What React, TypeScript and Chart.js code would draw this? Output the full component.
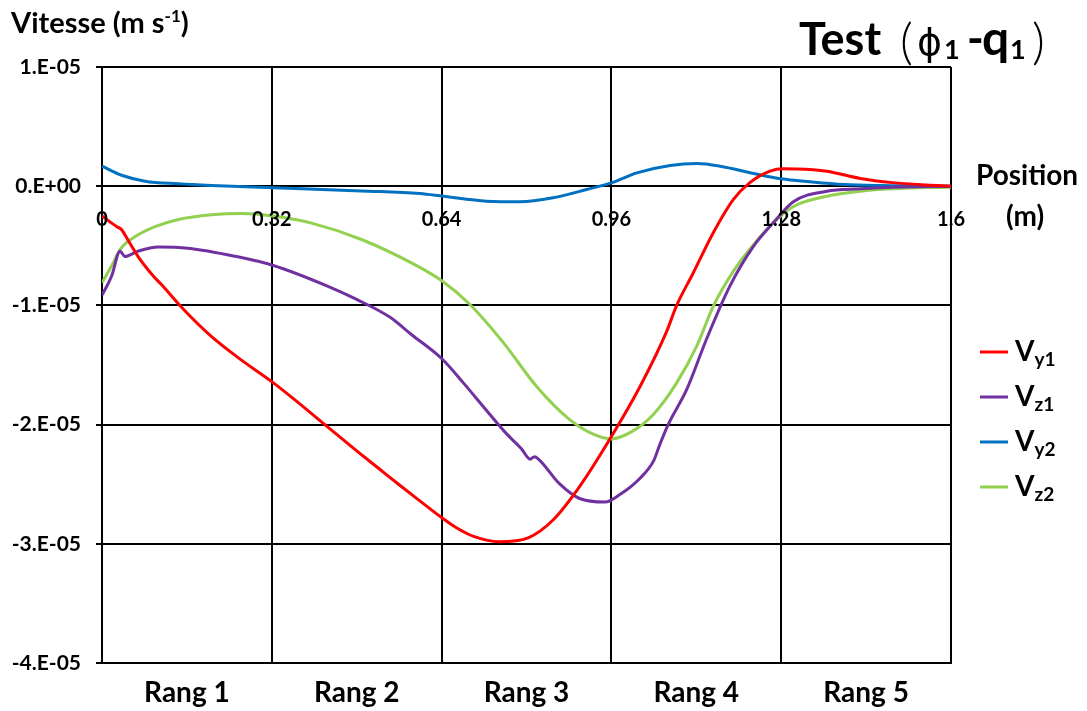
import React, { useEffect, useRef } from "react";
import { Chart, registerables } from "chart.js";

Chart.register(...registerables);

// Values are in units of 1E-05 m/s; positions in m.
const xTicks = [0, 0.32, 0.64, 0.96, 1.28, 1.6];
const xTickLabels = ["0", "0.32", "0.64", "0.96", "1.28", "1.6"];
const yTicks = [-4, -3, -2, -1, 0, 1];
const yTickLabels = ["-4.E-05", "-3.E-05", "-2.E-05", "-1.E-05", "0.E+00", "1.E-05"];
const rangLabels = ["Rang 1", "Rang 2", "Rang 3", "Rang 4", "Rang 5"];
const seriesSubs = ["y1", "z1", "y2", "z2"];
const seriesColors = ["#FF0000", "#7030A0", "#0070C0", "#92D050"];

const vy1X = [0, 0.028, 0.036, 0.05, 0.068, 0.097, 0.112, 0.153, 0.206, 0.257, 0.323, 0.36, 0.42, 0.48, 0.524, 0.56, 0.599, 0.64, 0.668, 0.699, 0.749, 0.803, 0.85, 0.9, 0.96, 1.014, 1.064, 1.083, 1.114, 1.152, 1.19, 1.221, 1.259, 1.284, 1.31, 1.366, 1.429, 1.49, 1.554, 1.6];
const vy1Y = [-0.25, -0.34, -0.36, -0.46, -0.59, -0.755, -0.825, -1.03, -1.26, -1.44, -1.65, -1.78, -2.0, -2.22, -2.377, -2.505, -2.64, -2.78, -2.866, -2.936, -2.983, -2.95, -2.8, -2.52, -2.1, -1.68, -1.22, -1.0, -0.73, -0.39, -0.11, 0.03, 0.126, 0.146, 0.145, 0.126, 0.065, 0.03, 0.01, 0];

const vz1X = [0, 0.018, 0.034, 0.043, 0.068, 0.106, 0.162, 0.25, 0.323, 0.426, 0.48, 0.543, 0.583, 0.641, 0.681, 0.731, 0.763, 0.79, 0.807, 0.815, 0.822, 0.863, 0.9, 0.948, 0.976, 1.014, 1.04, 1.051, 1.067, 1.102, 1.139, 1.183, 1.228, 1.265, 1.303, 1.366, 1.429, 1.49, 1.6];
const vz1Y = [-0.914, -0.755, -0.545, -0.59, -0.545, -0.51, -0.52, -0.587, -0.665, -0.84, -0.95, -1.1, -1.244, -1.45, -1.65, -1.915, -2.08, -2.2, -2.29, -2.27, -2.287, -2.5, -2.62, -2.65, -2.587, -2.45, -2.3, -2.17, -2.0, -1.705, -1.286, -0.84, -0.503, -0.307, -0.13, -0.042, -0.022, -0.008, 0];

const vy2X = [0, 0.037, 0.081, 0.144, 0.206, 0.323, 0.489, 0.599, 0.643, 0.725, 0.788, 0.85, 0.913, 0.96, 1.008, 1.071, 1.121, 1.165, 1.228, 1.28, 1.334, 1.398, 1.47, 1.6];
const vy2Y = [0.168, 0.092, 0.042, 0.02, 0.006, -0.013, -0.04, -0.061, -0.084, -0.126, -0.131, -0.097, -0.028, 0.028, 0.112, 0.174, 0.19, 0.168, 0.107, 0.062, 0.037, 0.014, 0.005, 0];

const vz2X = [0, 0.018, 0.036, 0.062, 0.1, 0.144, 0.206, 0.263, 0.323, 0.395, 0.489, 0.583, 0.641, 0.693, 0.756, 0.819, 0.882, 0.926, 0.96, 1.0, 1.039, 1.083, 1.121, 1.152, 1.19, 1.228, 1.265, 1.304, 1.366, 1.429, 1.49, 1.6];
const vz2Y = [-0.81, -0.67, -0.52, -0.425, -0.34, -0.28, -0.24, -0.229, -0.25, -0.31, -0.447, -0.643, -0.795, -0.99, -1.31, -1.68, -1.96, -2.08, -2.12, -2.055, -1.915, -1.65, -1.34, -1.007, -0.713, -0.49, -0.307, -0.168, -0.084, -0.042, -0.022, -0.008];

const FONT = "Lato, 'Open Sans', sans-serif";

const pts = (xs: number[], ys: number[]) => xs.map((x, i) => ({ x, y: ys[i] }));

type Part = { t: string; font: string; dy?: number };
function drawRich(ctx: CanvasRenderingContext2D, parts: Part[], x: number, y: number) {
  let cx = x;
  ctx.textAlign = "left";
  ctx.textBaseline = "alphabetic";
  parts.forEach((p) => {
    ctx.font = p.font;
    ctx.fillText(p.t, cx, y + (p.dy || 0));
    cx += ctx.measureText(p.t).width;
  });
}

function drawAt(ctx: CanvasRenderingContext2D, t: string, font: string, x: number, y: number) {
  ctx.font = font;
  ctx.textAlign = "left";
  ctx.textBaseline = "alphabetic";
  ctx.fillText(t, x, y);
}

const textPlugin = {
  id: "textOverlay",
  afterDraw(chart: any) {
    const ctx: CanvasRenderingContext2D = chart.ctx;
    const xs = chart.scales.x;
    const ys = chart.scales.y;
    const area = chart.chartArea;
    ctx.save();
    ctx.fillStyle = "#000";

    // x tick labels along the zero line
    const y0 = ys.getPixelForValue(0);
    ctx.font = `bold 20px ${FONT}`;
    ctx.textAlign = "center";
    ctx.textBaseline = "middle";
    xTicks.forEach((v, i) => ctx.fillText(xTickLabels[i], xs.getPixelForValue(v), y0 + 33));

    // Rang labels under the plot
    ctx.font = `bold 28px ${FONT}`;
    ctx.textBaseline = "alphabetic";
    rangLabels.forEach((r, i) => {
      const cx = (xs.getPixelForValue(xTicks[i]) + xs.getPixelForValue(xTicks[i + 1])) / 2;
      ctx.fillText(r, cx, area.bottom + 39);
    });

    // Axis titles
    drawRich(ctx, [
      { t: "Vitesse (m s", font: `bold 29px ${FONT}` },
      { t: "-1", font: `bold 17px ${FONT}`, dy: -11 },
      { t: ")", font: `bold 29px ${FONT}` },
    ], 11, 33);

    ctx.font = `bold 28px ${FONT}`;
    ctx.textAlign = "center";
    ctx.textBaseline = "alphabetic";
    ctx.fillText("Position", 1027, y0 - 1);
    ctx.fillText("(m)", 1025, y0 + 40);

    // Chart title
    drawAt(ctx, "Test", `bold 45px ${FONT}`, 799, 55);
    drawAt(ctx, "(", `300 50px ${FONT}`, 900, 59);
    drawAt(ctx, "ϕ", `38px 'DejaVu Sans'`, 917, 55);
    drawAt(ctx, "1", `bold 27px ${FONT}`, 944, 59);
    drawAt(ctx, "-", `bold 45px ${FONT}`, 967, 55);
    drawAt(ctx, "q", `bold 48px ${FONT}`, 982, 55);
    drawAt(ctx, "1", `bold 27px ${FONT}`, 1010, 59);
    drawAt(ctx, ")", `300 50px ${FONT}`, 1032, 59);

    // Legend
    const legTop = 352;
    const legGap = 45;
    seriesSubs.forEach((s, i) => {
      const ly = legTop + i * legGap;
      ctx.strokeStyle = seriesColors[i];
      ctx.lineWidth = 3;
      ctx.beginPath();
      ctx.moveTo(980, ly);
      ctx.lineTo(1008, ly);
      ctx.stroke();
      drawRich(ctx, [
        { t: "V", font: `bold 28px ${FONT}` },
        { t: s, font: `bold 19px ${FONT}`, dy: 5 },
      ], 1015, ly + 9);
    });
    ctx.restore();
  },
};

export default function App() {
  const ref = useRef<HTMLCanvasElement | null>(null);
  useEffect(() => {
    if (!ref.current) return;
    const data = [pts(vy1X, vy1Y), pts(vz1X, vz1Y), pts(vy2X, vy2Y), pts(vz2X, vz2Y)];
    const chart = new Chart(ref.current, {
      type: "line",
      data: {
        datasets: data.map((d, i) => ({
          label: "V" + seriesSubs[i],
          data: d,
          borderColor: seriesColors[i],
          backgroundColor: seriesColors[i],
          borderWidth: 3,
          pointRadius: 0,
          cubicInterpolationMode: "monotone" as const,
          fill: false,
        })),
      },
      options: {
        animation: false,
        responsive: false,
        devicePixelRatio: 1,
        layout: { padding: { top: 67, right: 136, bottom: 48, left: 0 } },
        plugins: { legend: { display: false }, tooltip: { enabled: false }, title: { display: false } },
        scales: {
          x: {
            type: "linear",
            min: 0,
            max: 1.6,
            afterBuildTicks: (s: any) => {
              s.ticks = xTicks.map((v) => ({ value: v }));
            },
            afterFit: (s: any) => {
              s.height = 0;
            },
            ticks: { display: false },
            grid: { color: "#000", lineWidth: 2, drawTicks: false, tickLength: 0 },
            border: { color: "#000", width: 2 },
          },
          y: {
            type: "linear",
            min: -4,
            max: 1,
            afterBuildTicks: (s: any) => {
              s.ticks = yTicks.map((v) => ({ value: v }));
            },
            afterFit: (s: any) => {
              s.width = 102;
            },
            ticks: {
              color: "#000",
              font: { family: FONT, size: 21, weight: "bold" },
              padding: 15,
              callback: (v: any) => yTickLabels[yTicks.indexOf(Number(v))],
            },
            grid: { color: "#000", lineWidth: 2, tickLength: 6 },
            border: { color: "#000", width: 2 },
          },
        },
      },
      plugins: [textPlugin],
    } as any);
    return () => chart.destroy();
  }, []);
  return (
    <div style={{ position: "fixed", left: 0, top: 0, width: 1087, height: 711, background: "#fff" }}>
      <canvas ref={ref} width={1087} height={711} style={{ display: "block" }} />
    </div>
  );
}
